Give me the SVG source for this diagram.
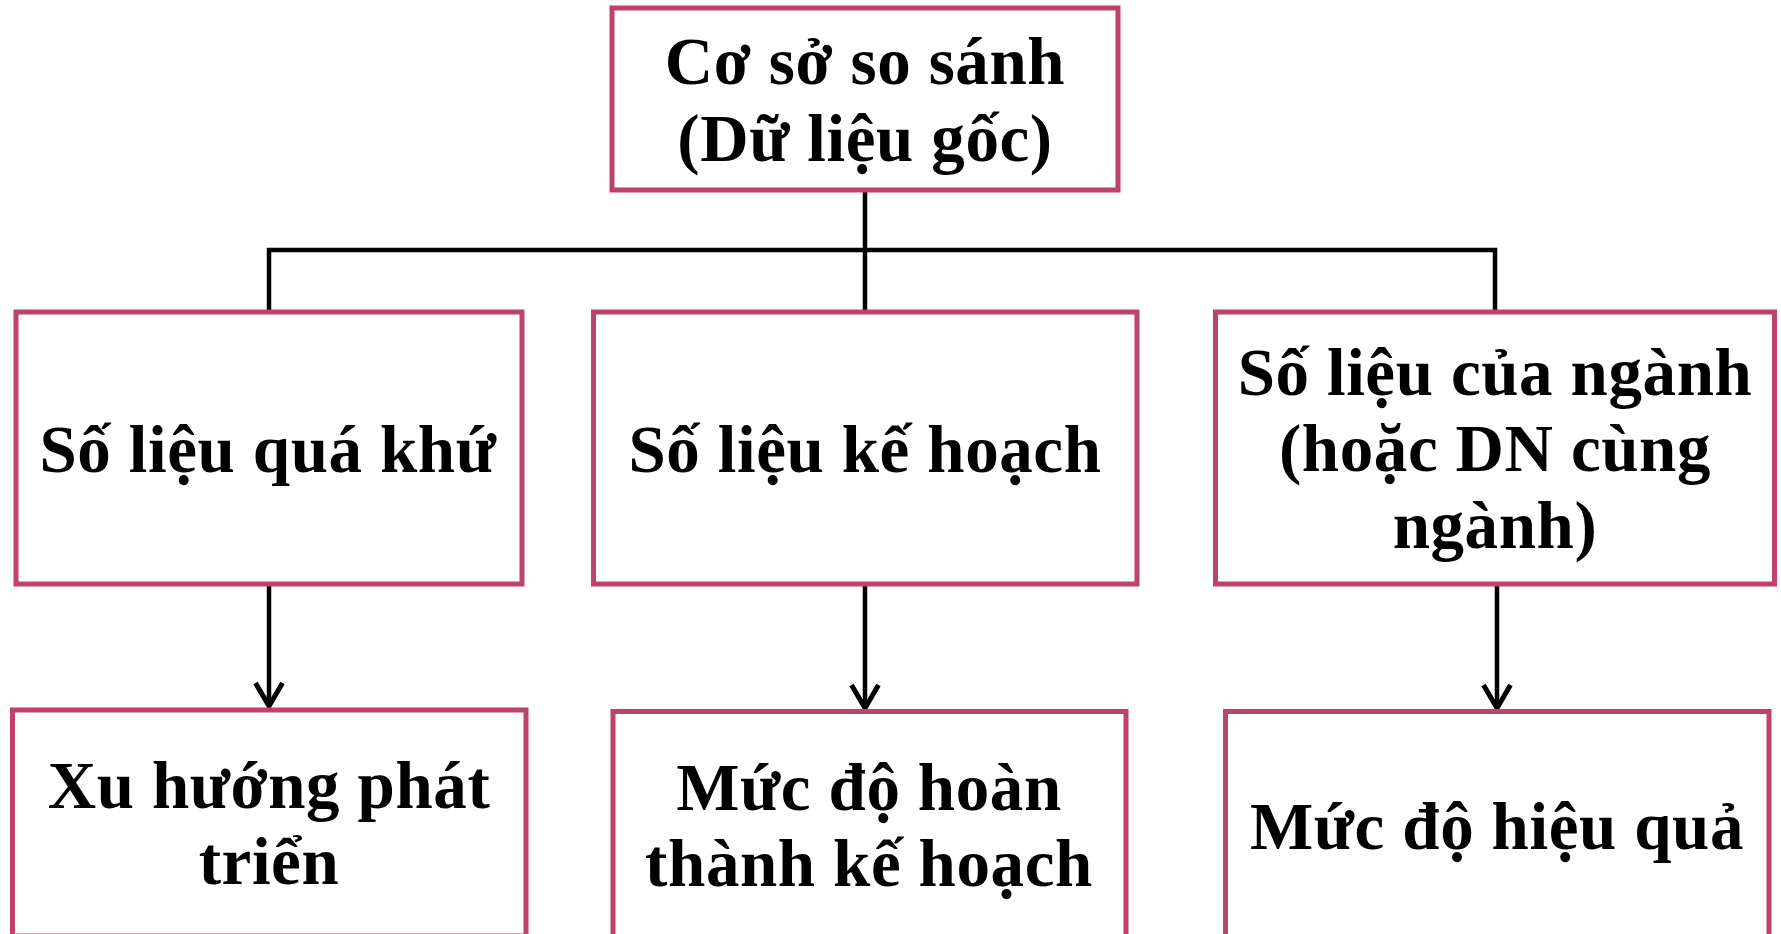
<svg xmlns="http://www.w3.org/2000/svg" width="1781" height="934" viewBox="0 0 1781 934">
<style>
.box{fill:#ffffff;stroke:#BE426C;stroke-width:5}
.t{font-family:"Liberation Serif","Times New Roman",serif;font-weight:bold;font-size:67px;letter-spacing:0.6px;fill:#000;text-anchor:middle}
.c{fill:none;stroke:#000;stroke-width:4.5}
</style>
<defs>
<marker id="ah" markerUnits="userSpaceOnUse" markerWidth="40" markerHeight="40" refX="0" refY="0" viewBox="-30 -20 34 40" orient="auto" overflow="visible">
<path d="M-23,-13.5 L0,0 L-23,13.5" fill="none" stroke="#000" stroke-width="5"/>
</marker>
</defs>
<rect width="1781" height="934" fill="#ffffff"/>
<g id="connectors">
<path class="c" d="M865,190 V312"/>
<path class="c" d="M269,312 V250 H1495 V312"/>
<path class="c" d="M269,584 V706" marker-end="url(#ah)"/>
<path class="c" d="M865,584 V708" marker-end="url(#ah)"/>
<path class="c" d="M1497,584 V708" marker-end="url(#ah)"/>
</g>
<g id="n-root">
<rect class="box" x="612" y="8" width="506" height="182"/>
<text class="t" x="865" y="84">Cơ sở so sánh</text>
<text class="t" x="865" y="161">(Dữ liệu gốc)</text>
</g>
<g id="n-past">
<rect class="box" x="16" y="312" width="506" height="272"/>
<text class="t" x="268" y="472">Số liệu quá khứ</text>
</g>
<g id="n-plan">
<rect class="box" x="593.5" y="312" width="543.5" height="272"/>
<text class="t" x="865" y="472">Số liệu kế hoạch</text>
</g>
<g id="n-industry">
<rect class="box" x="1215.5" y="312" width="559" height="272"/>
<text class="t" x="1495" y="395">Số liệu của ngành</text>
<text class="t" x="1495" y="471">(hoặc DN cùng</text>
<text class="t" x="1495" y="548">ngành)</text>
</g>
<g id="n-trend">
<rect class="box" x="12.5" y="710" width="513.5" height="226"/>
<text class="t" x="269" y="808">Xu hướng phát</text>
<text class="t" x="269" y="884">triển</text>
</g>
<g id="n-completion">
<rect class="box" x="613" y="711.5" width="513" height="225"/>
<text class="t" x="869" y="810">Mức độ hoàn</text>
<text class="t" x="869" y="886">thành kế hoạch</text>
</g>
<g id="n-efficiency">
<rect class="box" x="1225.5" y="711.5" width="543.5" height="225"/>
<text class="t" x="1497" y="849">Mức độ hiệu quả</text>
</g>
</svg>
